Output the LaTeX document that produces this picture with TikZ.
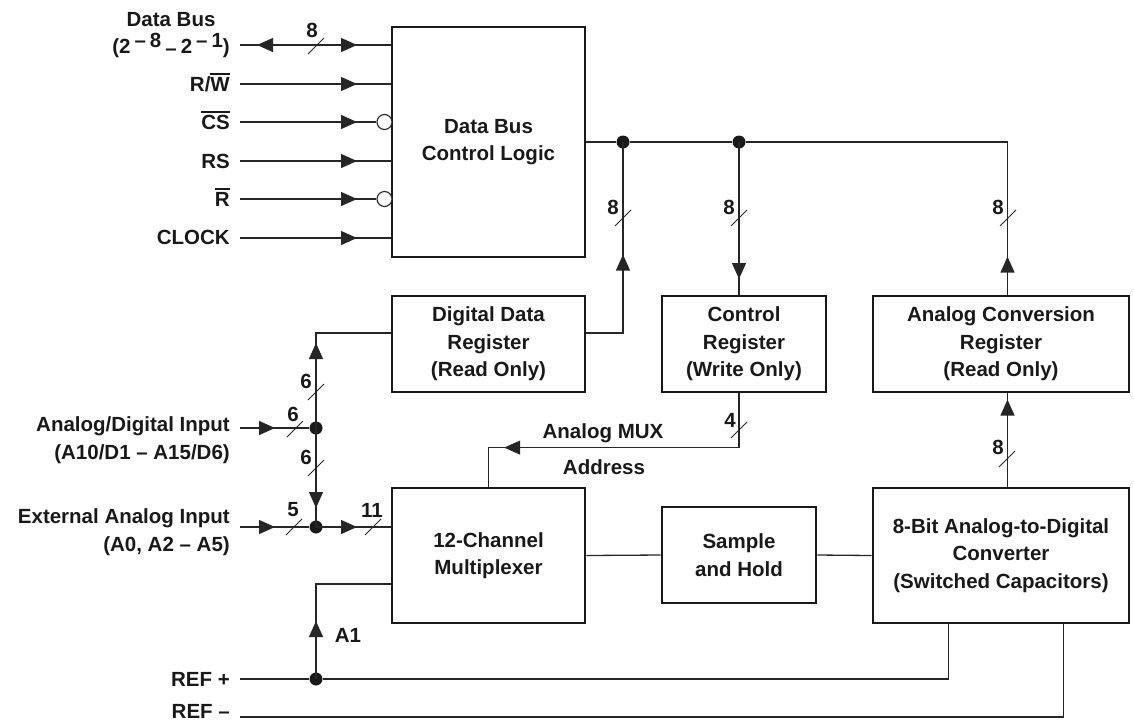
\documentclass[tikz,border=0pt]{standalone}
\usepackage{fontspec}
\setmainfont{Liberation Sans}
\usetikzlibrary{arrows.meta,decorations.markings,calc}
\newcommand{\ovl}[1]{\vbox{\hrule height 1.8pt\kern 2pt\hbox{#1}}}
\newcommand{\bslash}[2]{\draw[slashline] ({#1-8},{#2+8}) -- ({#1+8},{#2-8});}
\begin{document}
\begin{tikzpicture}[x=1pt,y=-1pt,
  every node/.style={font=\fontsize{20.5}{27.5}\selectfont\bfseries, inner sep=0pt, text=black!90},
  box/.style={draw=black!90, line width=2.8pt, align=center},
  wire/.style={line width=1.3pt, draw=black!85},
  slashline/.style={line width=1pt, draw=black!85},
  dot/.style={circle, fill=black!90, minimum size=13pt, inner sep=0pt},
  bubble/.style={circle, draw=black!85, fill=white, line width=1.1pt, minimum size=15pt, inner sep=0pt},
  lbl/.style={anchor=base east},
  tip/.style={postaction={decorate, decoration={markings, mark=at position #1 with {\arrow{Triangle[length=16pt,width=14pt]}}}}},
  rtip/.style={postaction={decorate, decoration={markings, mark=at position #1 with {\arrowreversed{Triangle[length=16pt,width=14pt]}}}}}
]
\useasboundingbox (0,0) rectangle (1134,721);

% boxes
\node[box, minimum width=193pt, minimum height=230pt] (dbcl) at (488.5,142) {Data Bus\\Control Logic};
\node[box, minimum width=193pt, minimum height=96pt] (ddr) at (488.5,344) {Digital Data\\Register\\(Read Only)};
\node[box, minimum width=164pt, minimum height=96pt] (cr) at (744,344) {Control\\Register\\(Write Only)};
\node[box, minimum width=256pt, minimum height=96pt] (acr) at (1001,344) {Analog Conversion\\Register\\(Read Only)};
\node[box, minimum width=193pt, minimum height=135pt] (mux) at (488.5,555.5) {12-Channel\\Multiplexer};
\node[box, minimum width=154pt, minimum height=96pt] (sh) at (739,555) {Sample\\and Hold};
\node[box, minimum width=256pt, minimum height=135pt] (adc) at (1001,555.5) {8-Bit Analog-to-Digital\\Converter\\(Switched Capacitors)};

% input labels
\node[anchor=east, align=center] (lDB) at (230,35) {Data Bus\\(2\hspace{4pt}\raisebox{6pt}{–\hspace{4pt}8}\hspace{4pt}\raisebox{-2pt}{–}\hspace{4pt}2\hspace{4pt}\raisebox{6pt}{–\hspace{4pt}1})};
\node[lbl] (lRW) at (230,91) {R/\ovl{W}};
\node[lbl] (lCS) at (230,129) {\ovl{CS}};
\node[lbl] (lRS) at (230,168) {RS};
\node[lbl] (lR) at (230,206) {\ovl{R}};
\node[lbl] (lCK) at (230,244) {CLOCK};
\node[anchor=east, align=right] (lAD) at (230,440) {Analog/Digital Input\\(A10/D1 – A15/D6)};
\node[anchor=east, align=right] (lEA) at (230,532) {External Analog Input\\(A0, A2 – A5)};
\node[lbl] (lRP) at (230,686) {REF +};
\node[lbl] (lRM) at (230,718.5) {REF –};

% wire start points
\coordinate (inDB) at (240,45);
\coordinate (inRW) at (240,84);
\coordinate (inCS) at (240,122);
\coordinate (inRS) at (240,161);
\coordinate (inR) at (240,199);
\coordinate (inCK) at (240,238);
\coordinate (inAD) at (240,428);
\coordinate (inEA) at (240,527);
\coordinate (inRP) at (240,679);
\coordinate (inRM) at (240,717);

% bubbles and junction dots
\node[bubble] (bCS) at (384.5,122) {};
\node[bubble] (bR) at (384.5,199) {};
\node[dot] (j1) at (623,142) {};
\node[dot] (j2) at (739,142) {};
\node[dot] (jAD) at (316,428) {};
\node[dot] (jEA) at (316,527) {};
\node[dot] (jRP) at (316,679) {};

% control inputs
\draw[wire, rtip=17pt, tip=117pt] (inDB) -- (dbcl.west |- inDB);
\draw[wire, tip=117pt] (inRW) -- (dbcl.west |- inRW);
\draw[wire, tip=117pt] (inCS) -- (bCS);
\draw[wire, tip=117pt] (inRS) -- (dbcl.west |- inRS);
\draw[wire, tip=117pt] (inR) -- (bR);
\draw[wire, tip=117pt] (inCK) -- (dbcl.west |- inCK);

% internal bus
\draw[wire] (dbcl.east) -- (j1) -- (j2);
\draw[wire, tip=38pt] ([xshift=6.5pt]acr.north) |- (j2);
\draw[wire, tip=115pt] ([yshift=11pt]ddr.east) -| (j1.center);
\draw[wire, tip=137pt] (j2.center) -- ([xshift=-5pt]cr.north);
\draw[wire, tip=289pt] ([xshift=-5pt]cr.south) |- ($(mux.north)+(0,-39)$) -- (mux.north);
\draw[wire, tip=87pt] ([xshift=6.5pt]adc.north) -- ([xshift=6.5pt]acr.south);
\draw[wire] (mux.east) -- (sh.west);
\draw[wire] (sh.east) -- (adc.west);

% analog inputs
\draw[wire, tip=35pt] (inAD) -- (jAD);
\draw[wire, tip=85pt] (jAD.center) |- ([yshift=11pt]ddr.west);
\draw[wire, tip=80pt] (jAD.center) -- (jEA.center);
\draw[wire, tip=35pt] (inEA) -- (jEA);
\draw[wire, tip=41pt] (jEA.center) -- ([yshift=28.5pt]mux.west);
\draw[wire] (inRP) -- (jRP) -| ([xshift=77pt]adc.south west);
\draw[wire, tip=58pt] (jRP.center) |- ([yshift=-28.5pt]mux.west);
\draw[wire] (inRM) -| ([xshift=192pt]adc.south west);

% bus slashes and widths
\bslash{316}{46}   \node (w1) at (312,30) {8};
\bslash{623}{218}  \node (w2) at (613,207) {8};
\bslash{739}{218}  \node (w3) at (729,207) {8};
\bslash{1008}{218} \node (w4) at (998,207) {8};
\bslash{739}{430}  \node (w5) at (730,420) {4};
\bslash{1007}{459} \node (w6) at (998,447) {8};
\bslash{295}{429}  \node (w7) at (293,414) {6};
\bslash{316}{392}  \node (w8) at (306,381) {6};
\bslash{316}{468}  \node (w9) at (306,457) {6};
\bslash{294}{527}  \node (w10) at (293,510) {5};
\bslash{373}{527}  \node (w11) at (372,510) {11};

% other labels
\node (tMUX) at (603,433) {Analog MUX};
\node (tAddr) at (604,467) {Address};
\node (tA1) at (348,635) {A1};
\end{tikzpicture}
\end{document}
